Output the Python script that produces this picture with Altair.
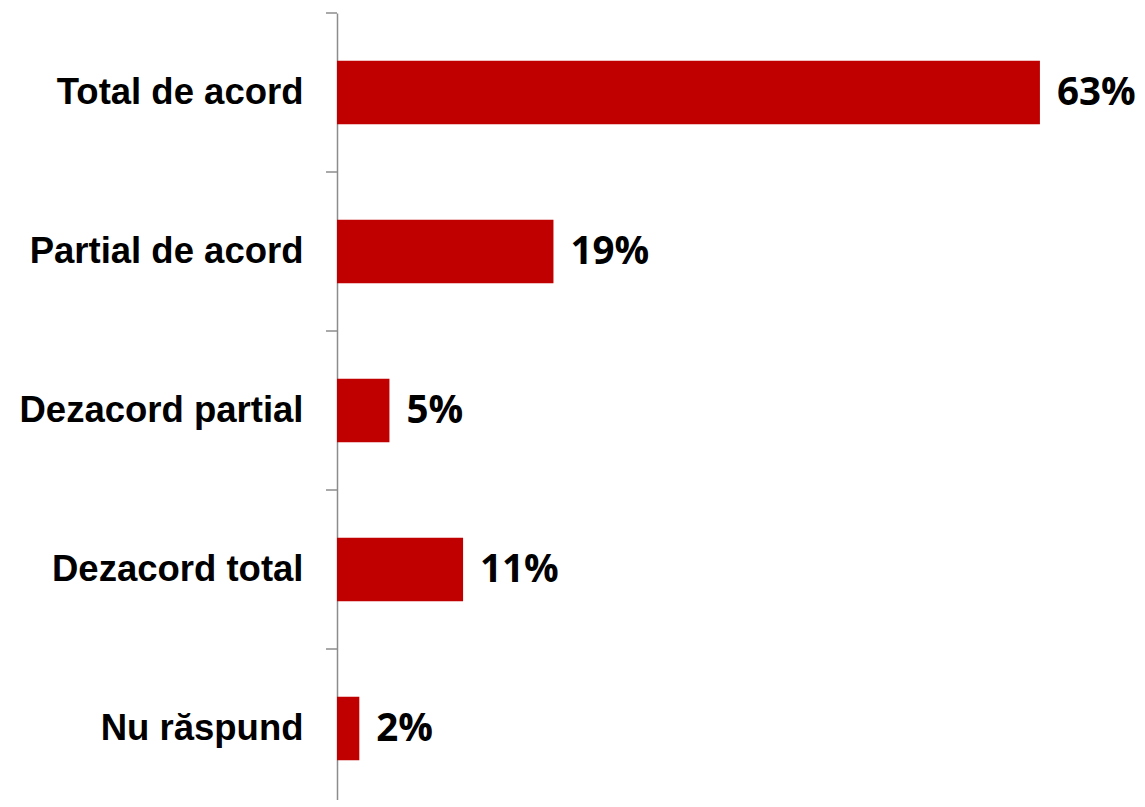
import altair as alt
import pandas as pd

categories = ["Total de acord", "Partial de acord", "Dezacord partial", "Dezacord total", "Nu răspund"]
values = [63.0, 19.4, 4.7, 11.3, 2.0]
labels = ["63%", "19%", "5%", "11%", "2%"]

df = pd.DataFrame({"cat": categories, "val": values, "lab": labels})

STEP = 159
y_scale = alt.Scale(domain=categories, range=[0, STEP * 5], paddingInner=0.6, paddingOuter=0.3)
x_scale = alt.Scale(domain=[0, 71.7], nice=False, zero=True)

base = alt.Chart(df)

bars = base.mark_bar(color="#C00000").encode(
    y=alt.Y("cat:N", sort=None, scale=y_scale,
            axis=alt.Axis(title=None, ticks=False, domain=True, domainColor="#8c8c8c",
                          domainWidth=1.5, labelFont="Liberation Sans", labelFontWeight="bold",
                          labelFontSize=36.5, labelColor="#000000", labelPadding=34,
                          labelLimit=400, grid=False)),
    x=alt.X("val:Q", scale=x_scale, axis=None),
)

text = base.mark_text(align="left", baseline="middle", dx=17, font="Open Sans",
                      fontWeight="bold", fontSize=38.5, color="#000000").encode(
    y=alt.Y("cat:N", sort=None, scale=y_scale),
    x=alt.X("val:Q", scale=x_scale),
    text="lab:N",
)

ticks = base.mark_rule(color="#8c8c8c", strokeWidth=1.5, yOffset=-0.3 * STEP).encode(
    y=alt.Y("cat:N", sort=None, scale=y_scale, bandPosition=0),
    x=alt.value(-11),
    x2=alt.value(0),
)

chart = alt.layer(bars, text, ticks).properties(
    width=800, height=787,
    autosize=alt.AutoSizeParams(type="none"),
    padding={"left": 329, "top": 5, "right": 0, "bottom": 0},
    background="white",
).configure_view(stroke=None)

chart.save("out.html", embed_options={"renderer": "svg", "actions": False})
